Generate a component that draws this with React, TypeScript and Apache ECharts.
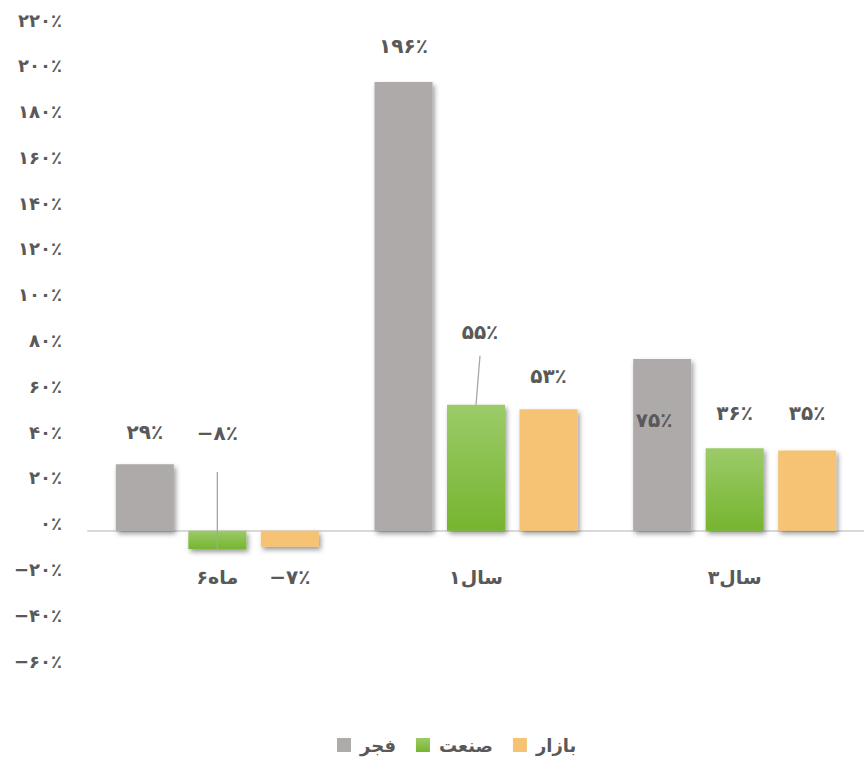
import React, { useEffect, useRef } from "react";
import * as echarts from "echarts";

const categories = ["۶ماه", "۱سال", "۳سال"];
const seriesNames = ["فجر", "صنعت", "بازار"];
const fajrValues = [29, 196, 75];
const sanatValues = [-8, 55, 36];
const bazarValues = [-7, 53, 35];
const yMin = -60;
const yMax = 220;
const yInterval = 20;

// label placement (styles)
const fajrLabelStyle = [
  { position: "top", offset: [0, -17] },
  { position: "top", offset: [0, -21] },
  { position: "top", offset: [-8, 76] },
];
const sanatLabelStyle = [
  { position: "top", offset: [0, -83] },
  { position: "top", offset: [4, -58] },
  { position: "top", offset: [0, -20] },
];
const bazarLabelStyle = [
  { position: "bottom", offset: [0, 15] },
  { position: "top", offset: [0, -18] },
  { position: "top", offset: [0, -23] },
];
// leader lines for the middle series (index in categories) and their end offsets
const leaderCats = [0, 1];
const leaderEnds = [
  [0, -77],
  [4, -49],
];

const FONT = "'DejaVu Sans', sans-serif";
const TEXT = "#595959";
const FA = "۰۱۲۳۴۵۶۷۸۹";
const toFa = (n: number) =>
  (n < 0 ? "−" : "") + String(Math.abs(n)).replace(/\d/g, (d) => FA[+d]) + "٪";

export default function App() {
  const ref = useRef<HTMLDivElement>(null);
  useEffect(() => {
    if (!ref.current) return;
    const chart = echarts.init(ref.current, undefined, { renderer: "svg" });
    const shadow = {
      shadowBlur: 5,
      shadowColor: "rgba(0,0,0,0.4)",
      shadowOffsetX: 2,
      shadowOffsetY: 3,
    };
    const labelBase = {
      show: true,
      fontFamily: FONT,
      fontWeight: "bold",
      fontSize: 20,
      color: TEXT,
      formatter: (p: any) => toFa(p.value),
    };
    const mk = (vals: number[], styles: any[]) =>
      vals.map((v, i) => ({
        value: v,
        label: { ...labelBase, position: styles[i].position, offset: styles[i].offset },
      }));
    const green = new echarts.graphic.LinearGradient(0, 0, 0, 1, [
      { offset: 0, color: "#9ccb69" },
      { offset: 1, color: "#76b52f" },
    ]);
    chart.setOption({
      animation: false,
      grid: { left: 88, right: -6, top: 27, bottom: 93, containLabel: false },
      legend: {
        data: seriesNames,
        left: 332,
        top: 731,
        icon: "rect",
        itemWidth: 14,
        itemHeight: 14,
        itemGap: 20,
        textStyle: {
          fontFamily: FONT,
          fontWeight: "bold",
          fontSize: 18,
          color: TEXT,
          padding: [0, 0, 0, 4],
        },
      },
      xAxis: {
        type: "category",
        data: categories,
        axisLine: { show: true, onZero: true, lineStyle: { color: "#d9d9d9", width: 2 } },
        axisTick: { show: false },
        axisLabel: {
          margin: -101,
          fontFamily: FONT,
          fontWeight: "bold",
          fontSize: 19,
          color: TEXT,
        },
      },
      yAxis: {
        type: "value",
        min: yMin,
        max: yMax,
        interval: yInterval,
        splitLine: { show: false },
        axisLine: { show: false },
        axisTick: { show: false },
        axisLabel: {
          margin: 26,
          fontFamily: FONT,
          fontWeight: "bold",
          fontSize: 18,
          color: TEXT,
          verticalAlign: "bottom",
          lineHeight: 14,
          formatter: (v: number) => toFa(v),
        },
      },
      series: [
        {
          name: seriesNames[0],
          type: "bar",
          barWidth: 58,
          barGap: "25%",
          itemStyle: { color: "#aeaaaa", ...shadow },
          data: mk(fajrValues, fajrLabelStyle),
        },
        {
          name: seriesNames[1],
          type: "bar",
          barWidth: 58,
          barGap: "25%",
          itemStyle: { color: green, ...shadow },
          data: mk(sanatValues, sanatLabelStyle),
        },
        {
          name: seriesNames[2],
          type: "bar",
          barWidth: 58,
          barGap: "25%",
          itemStyle: { color: "#f5c373", ...shadow },
          data: mk(bazarValues, bazarLabelStyle),
        },
        {
          type: "custom",
          z: 5,
          silent: true,
          data: leaderCats.map((c) => [c, sanatValues[c]]),
          encode: { x: 0, y: 1 },
          renderItem: (params: any, api: any) => {
            const p = api.coord([api.value(0), api.value(1)]);
            const o = leaderEnds[params.dataIndex];
            return {
              type: "line",
              shape: { x1: p[0], y1: p[1], x2: p[0] + o[0], y2: p[1] + o[1] },
              style: { stroke: "#a6a6a6", lineWidth: 1.3 },
            };
          },
        },
      ],
    });
    return () => chart.dispose();
  }, []);
  return (
    <div
      ref={ref}
      style={{ position: "fixed", left: 0, top: 0, width: 864, height: 761, background: "#fff" }}
    />
  );
}
